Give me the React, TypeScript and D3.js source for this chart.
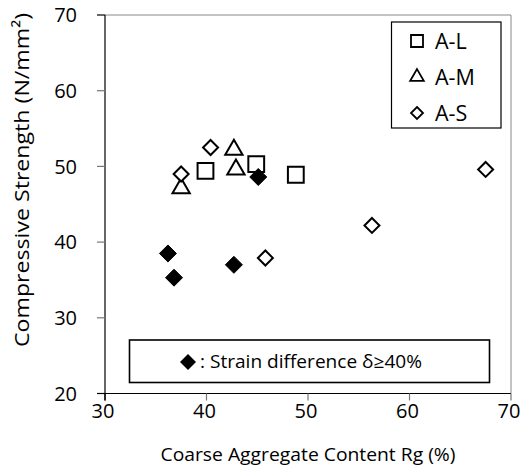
import React from "react";
import * as d3 from "d3";

const xTicks = [30, 40, 50, 60, 70];
const yTicks = [20, 30, 40, 50, 60, 70];

const seriesAL_x = [39.9, 44.9, 48.8];
const seriesAL_y = [49.4, 50.3, 48.9];
const seriesAM_x = [37.5, 42.7, 42.9];
const seriesAM_y = [47.1, 52.2, 49.6];
const seriesAS_x = [37.5, 40.4, 45.8, 56.3, 67.5];
const seriesAS_y = [49.0, 52.5, 37.9, 42.2, 49.6];
const filled_x = [36.2, 36.8, 42.7, 45.1];
const filled_y = [38.5, 35.3, 37.0, 48.6];

const legendLabels = ["A-L", "A-M", "A-S"];
const noteText = ": Strain difference δ≥40%";
const xTitle = "Coarse Aggregate Content Rg (%)";
const yTitle = "Compressive Strength (N/mm²)";

const FONT = "'Open Sans', 'Noto Sans', sans-serif";

export default function App() {
  const W = 520, H = 472;
  const left = 105, right = 511, top = 15, bottom = 393.5;
  const x = d3.scaleLinear().domain([30, 70]).range([left, right]);
  const y = d3.scaleLinear().domain([20, 70]).range([bottom, top]);

  const sq = d3.symbol().type(d3.symbolSquare);
  const tri = d3.symbol().type(d3.symbolTriangle);
  const dia = (s: number) => `M0,${-s}L${s},0L0,${s}L${-s},0Z`;

  const zip = (xs: number[], ys: number[]) => xs.map((v, i) => [v, ys[i]]);

  return (
    <svg width={W} height={H} style={{ position: "absolute", left: 0, top: 0, background: "#fff" }} fontFamily={FONT}>
      {/* frame */}
      <line x1={left} y1={top} x2={right} y2={top} stroke="#888" strokeWidth={1} />
      <line x1={right} y1={top} x2={right} y2={bottom} stroke="#888" strokeWidth={1} />
      {/* axes */}
      <line x1={left} y1={top} x2={left} y2={bottom + 7} stroke="#000" strokeWidth={1.2} />
      <line x1={left - 8} y1={bottom} x2={right} y2={bottom} stroke="#000" strokeWidth={1.2} />
      {yTicks.map((t) => (
        <g key={"y" + t}>
          <line x1={left - 8} x2={left} y1={y(t)} y2={y(t)} stroke={t === 20 || t === 70 ? "#000" : "#777"} strokeWidth={1.2} />
          <text x={77} y={y(t)} dy="0.36em" textAnchor="end" fontSize={20} fill="#000">{t}</text>
        </g>
      ))}
      {xTicks.map((t) => (
        <g key={"x" + t}>
          <line x1={x(t)} x2={x(t)} y1={bottom} y2={bottom + 7} stroke={t === 30 ? "#000" : "#777"} strokeWidth={1.2} />
          <text x={x(t) - 2} y={bottom + 24} textAnchor="middle" fontSize={20} fill="#000">{t}</text>
        </g>
      ))}
      <text x={308} y={461} textAnchor="middle" fontSize={18} textLength={295} lengthAdjust="spacingAndGlyphs" fill="#000">{xTitle}</text>
      <text transform={`translate(29,180) rotate(-90)`} textAnchor="middle" fontSize={20} textLength={334} lengthAdjust="spacingAndGlyphs" fill="#000">{yTitle}</text>

      {/* points */}
      {zip(seriesAL_x, seriesAL_y).map(([a, b], i) => (
        <path key={"l" + i} d={sq.size(250)()!} transform={`translate(${x(a)},${y(b)})`} fill="#fff" stroke="#000" strokeWidth={2} />
      ))}
      {zip(seriesAM_x, seriesAM_y).map(([a, b], i) => (
        <path key={"m" + i} d={tri.size(130)()!} transform={`translate(${x(a)},${y(b)})`} fill="#fff" stroke="#000" strokeWidth={2} />
      ))}
      {zip(seriesAS_x, seriesAS_y).map(([a, b], i) => (
        <path key={"s" + i} d={dia(7.5)} transform={`translate(${x(a)},${y(b)})`} fill="#fff" stroke="#000" strokeWidth={2} />
      ))}
      {zip(filled_x, filled_y).map(([a, b], i) => (
        <path key={"f" + i} d={dia(8.5)} transform={`translate(${x(a)},${y(b)})`} fill="#000" stroke="#000" strokeWidth={1} />
      ))}

      {/* legend */}
      <rect x={391.5} y={22} width={109.5} height={106} fill="#fff" stroke="#000" strokeWidth={1.2} />
      {legendLabels.map((lab, i) => {
        const cy = 41 + i * 36;
        const d = i === 0 ? sq.size(144)()! : i === 1 ? tri.size(80)()! : dia(6);
        return (
          <g key={lab}>
            <path d={d} transform={`translate(417,${cy})`} fill="#fff" stroke="#000" strokeWidth={1.8} />
            <text x={435} y={cy + 7.5} fontSize={21.5} fill="#000">{lab}</text>
          </g>
        );
      })}

      {/* note box */}
      <rect x={129.5} y={340} width={360} height={42.5} fill="#fff" stroke="#000" strokeWidth={1.6} />
      <path d={dia(8)} transform={`translate(188,362)`} fill="#000" />
      <text x={200} y={368} fontSize={18} textLength={222} lengthAdjust="spacingAndGlyphs" fill="#000">{noteText}</text>
    </svg>
  );
}
